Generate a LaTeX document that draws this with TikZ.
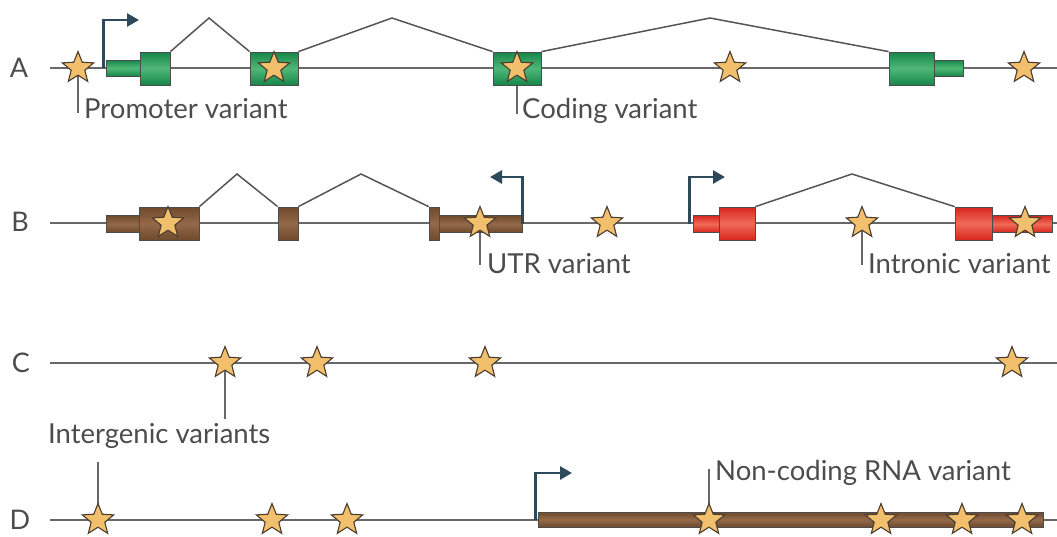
\documentclass[tikz,border=0pt]{standalone}
\usepackage{fontspec}
\setmainfont{Lato}
\usetikzlibrary{shapes.geometric,arrows.meta,backgrounds}
\definecolor{txt}{HTML}{4C4C4C}
\definecolor{bb}{HTML}{686868}
\definecolor{intr}{HTML}{555555}
\definecolor{promc}{HTML}{2C4A5A}
\definecolor{gD}{HTML}{17864A}
\definecolor{gL}{HTML}{4FB877}
\definecolor{bD}{HTML}{6E4A2C}
\definecolor{bL}{HTML}{94694A}
\definecolor{rD}{HTML}{D8261E}
\definecolor{rL}{HTML}{F06A58}
\definecolor{stf}{HTML}{F2C06C}
\definecolor{sto}{HTML}{4A3C2E}
\tikzset{
  lbl/.style={font=\fontsize{27.5}{32}\selectfont, text=txt, inner sep=0pt, anchor=base west},
  rowlbl/.style={font=\fontsize{27}{32}\selectfont, text=txt, inner sep=0pt},
  backbone/.style={draw=bb, line width=2.2pt},
  leader/.style={draw=bb, line width=1.4pt},
  intron/.style={draw=intr, line width=1.5pt},
  exon/.style={draw=black!70, line width=0.8pt, inner sep=0pt, rectangle},
  exG/.style={exon, top color=gD, bottom color=gD, middle color=gL},
  exB/.style={exon, top color=bD, bottom color=bD, middle color=bL},
  exR/.style={exon, top color=rD, bottom color=rD, middle color=rL},
  big/.style={minimum height=33pt},
  thin/.style={minimum height=16pt},
  vstar/.style={star, star points=5, star point ratio=2.3, minimum size=33pt, inner sep=0pt,
     fill=stf, draw=sto, line width=1.1pt},
  prom/.style={draw=promc, line width=2.8pt, -{Triangle[length=12pt,width=13pt]}}
}
\begin{document}
\begin{tikzpicture}[x=1pt,y=-1pt]
\useasboundingbox (0,0) rectangle (1057,536);

% ---------------- row labels
\node[rowlbl] (lA) at (19,68) {A};
\node[rowlbl] (lB) at (20,222) {B};
\node[rowlbl] (lC) at (21,363) {C};
\node[rowlbl] (lD) at (20,520) {D};

% ---------------- backbone ends
\coordinate (A0) at (50,68);  \coordinate (A1) at (1057,68);
\coordinate (B0) at (50,223); \coordinate (B1) at (1057,223);
\coordinate (C0) at (50,363); \coordinate (C1) at (1057,363);
\coordinate (D0) at (50,520); \coordinate (D1) at (1057,520);
\begin{scope}[on background layer]
\draw[backbone] (A0) -- (A1);
\draw[backbone] (B0) -- (B1);
\draw[backbone] (C0) -- (C1);
\draw[backbone] (D0) -- (D1);
\end{scope}

% ---------------- row A gene (green)
\node[exG, thin, minimum width=34pt] (a1t) at (123,68) {};
\node[exG, big, minimum width=30pt] (a1) at (155,68.5) {};
\node[exG, big, minimum width=48pt] (a2) at (274,68.5) {};
\node[exG, big, minimum width=48pt] (a3) at (517,68.5) {};
\node[exG, big, minimum width=45pt] (a4) at (911.5,68.5) {};
\node[exG, thin, minimum width=29pt] (a4t) at (948.5,68) {};
\coordinate (pA1) at (209,18);
\coordinate (pA2) at (392,18);
\coordinate (pA3) at (710,18);
\draw[intron] (a1.north east) -- (pA1) -- (a2.north west);
\draw[intron] (a2.north east) -- (pA2) -- (a3.north west);
\draw[intron] (a3.north east) -- (pA3) -- (a4.north west);
\coordinate (arA) at (139,20);
\draw[prom] ([xshift=-2pt]a1t.west) |- (arA);

% ---------------- row B gene 1 (brown, reverse)
\node[exB, minimum height=17pt, minimum width=33pt] (b1t) at (122.5,224) {};
\node[exB, big, minimum width=60pt] (b1) at (169,223.5) {};
\node[exB, big, minimum width=20pt] (b2) at (288,223.5) {};
\node[exB, big, minimum width=10pt] (b3) at (434,223.5) {};
\node[exB, minimum height=17pt, minimum width=83pt] (b3t) at (480.5,224) {};
\coordinate (pB1) at (237,174);
\coordinate (pB2) at (361,174);
\draw[intron] (b1.north east) -- (pB1) -- (b2.north west);
\draw[intron] (b2.north east) -- (pB2) -- (b3.north west);
\coordinate (arB) at (490,177);
\draw[prom] (b3t.east) |- (arB);

% ---------------- row B gene 2 (red)
\node[exR, minimum height=17pt, minimum width=26pt] (r0t) at (706,224) {};
\node[exR, big, minimum width=36pt] (r1) at (737,223.5) {};
\node[exR, big, minimum width=37pt] (r2) at (973.5,223.5) {};
\node[exR, minimum height=17pt, minimum width=60pt] (r2t) at (1022,224) {};
\coordinate (pB3) at (852,174);
\draw[intron] (r1.north east) -- (pB3) -- (r2.north west);
\coordinate (arR) at (725,177);
\draw[prom] ([xshift=-3pt]r0t.west) |- (arR);

% ---------------- row D gene (non-coding RNA)
\node[exB, minimum height=15pt, minimum width=505pt] (nc) at (790.5,519.5) {};
\coordinate (arD) at (572,473);
\draw[prom] ([xshift=-2pt]nc.west) |- (arD);

% ---------------- stars
\node[vstar] (sA1) at (78,68) {};
\node[vstar] (sA2) at (274,68) {};
\node[vstar] (sA3) at (517,68) {};
\node[vstar] (sA4) at (730,68) {};
\node[vstar] (sA5) at (1024,68) {};

\node[vstar] (sB1) at (168,223) {};
\node[vstar] (sB2) at (480,223) {};
\node[vstar] (sB3) at (607,223) {};
\node[vstar] (sB4) at (862,223) {};
\node[vstar] (sB5) at (1025,223) {};

\node[vstar] (sC1) at (225,363) {};
\node[vstar] (sC2) at (317,363) {};
\node[vstar] (sC3) at (485,363) {};
\node[vstar] (sC4) at (1012,363) {};

\node[vstar] (sD1) at (98,520) {};
\node[vstar] (sD2) at (272,520) {};
\node[vstar] (sD3) at (347,520) {};
\node[vstar] (sD4) at (709,520) {};
\node[vstar] (sD5) at (881,520) {};
\node[vstar] (sD6) at (962,520) {};
\node[vstar] (sD7) at (1022,520) {};

% ---------------- labels
\node[lbl] (lp) at (84,118) {Promoter variant};
\node[lbl] (lc) at (522,118) {Coding variant};
\node[lbl] (lu) at (487,273) {UTR variant};
\node[lbl] (lin) at (868,273) {Intronic variant};
\node[lbl] (lig) at (48,443) {Intergenic variants};
\node[lbl] (lnc) at (715,480) {Non-coding RNA variant};

\begin{scope}[on background layer]
\draw[leader] (sA1.center) -- ([yshift=5pt]sA1.center |- lp.base);
\draw[leader] (sA3.center) -- ([yshift=4pt]sA3.center |- lc.base);
\draw[leader] (sB2.center) -- ([yshift=8pt]sB2.center |- lu.base);
\draw[leader] (sB4.center) -- ([yshift=8pt]sB4.center |- lin.base);
\draw[leader] (sC1.center) -- ([yshift=24pt]sC1.center |- lig.base);
\draw[leader] ([yshift=-19pt]sD1.center |- lig.base) -- (sD1.center);
\draw[leader] ([yshift=11pt]sD4.center |- lnc.base) -- (sD4.center);
\end{scope}
\end{tikzpicture}
\end{document}
